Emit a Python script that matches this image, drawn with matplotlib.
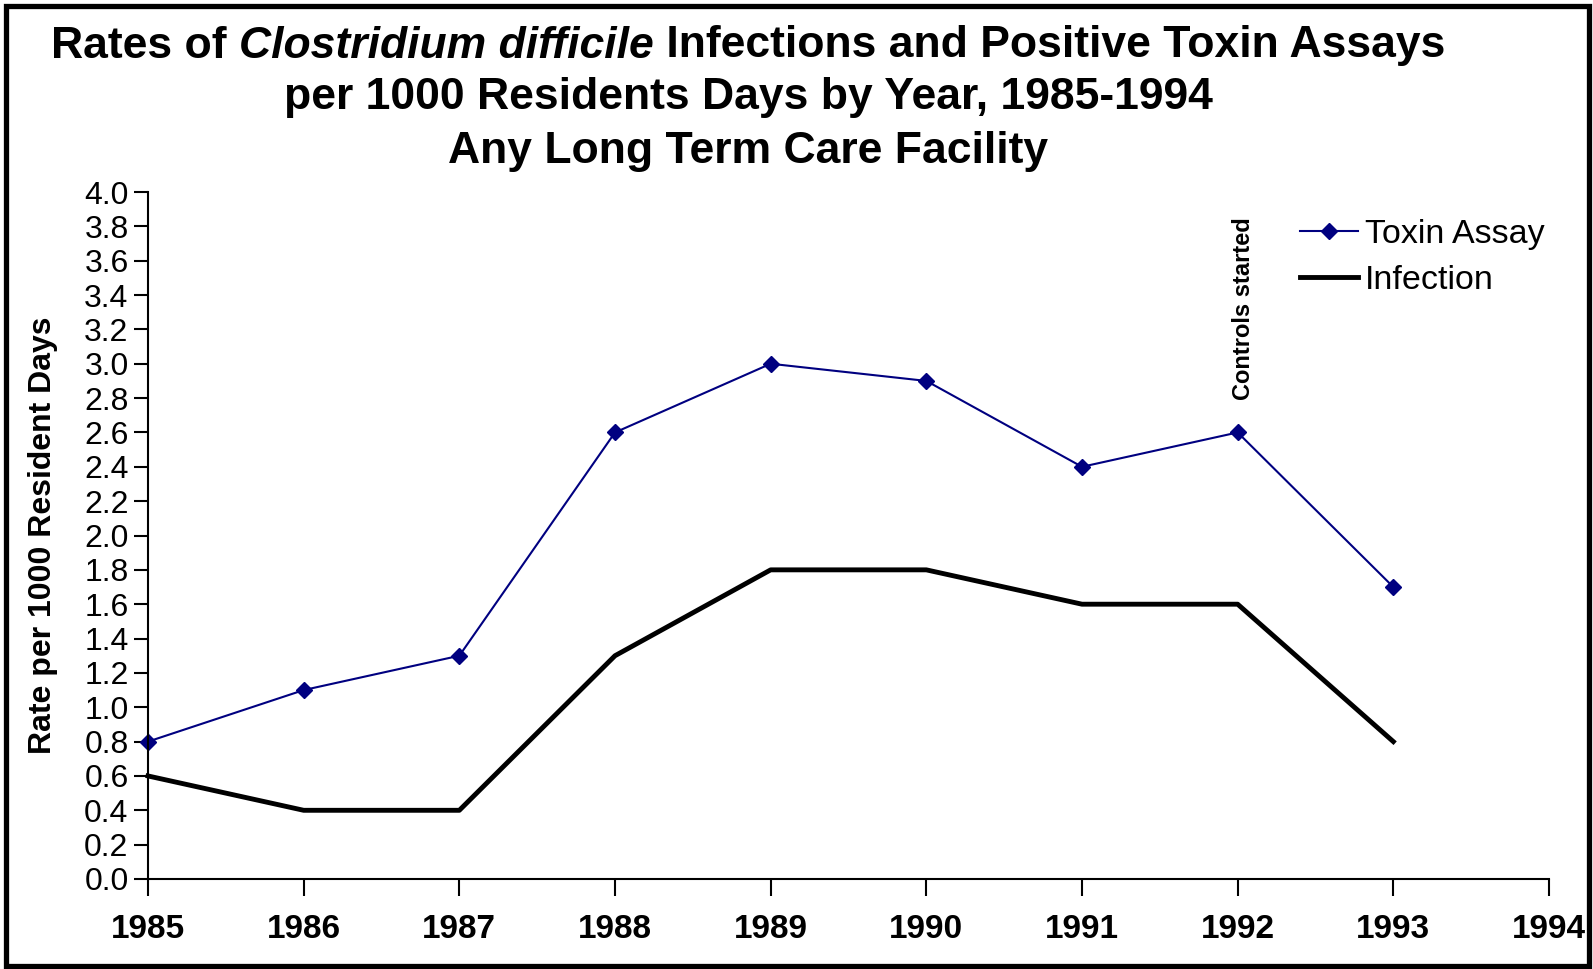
import matplotlib
matplotlib.use('Agg')
import matplotlib.pyplot as plt
from matplotlib.patches import Rectangle

plt.rcParams['font.family'] = ['Liberation Sans', 'DejaVu Sans']

years = [1985, 1986, 1987, 1988, 1989, 1990, 1991, 1992, 1993]
toxin = [0.8, 1.1, 1.3, 2.6, 3.0, 2.9, 2.4, 2.6, 1.7]
infection = [0.6, 0.4, 0.4, 1.3, 1.8, 1.8, 1.6, 1.6, 0.8]
x_ticks = list(range(1985, 1995))
y_ticks = [i / 5 for i in range(21)]

W, H = 1593, 969
fig = plt.figure(figsize=(W / 100, H / 100), dpi=100)
ax = fig.add_axes([148 / W, 1 - 879 / H, (1549 - 148) / W, (879 - 192) / H])

ax.plot(years, toxin, color='#000080', lw=1.5, marker='D', ms=8.5,
        label='Toxin Assay', clip_on=False)
ax.plot(years, infection, color='black', lw=3.5, label='Infection',
        clip_on=False)

ax.set_xlim(1985, 1994)
ax.set_ylim(0, 4.0)
ax.set_xticks(x_ticks)
ax.set_xticklabels([str(y) for y in x_ticks], fontsize=24, fontweight='bold')
ax.set_yticks(y_ticks)
ax.set_yticklabels([f'{v:.1f}' for v in y_ticks], fontsize=23)
ax.tick_params(axis='x', direction='out', length=12, width=1.5, pad=13)
ax.tick_params(axis='y', direction='out', length=10, width=1.5, pad=4)
for s in ['top', 'right']:
    ax.spines[s].set_visible(False)
for s in ['left', 'bottom']:
    ax.spines[s].set_linewidth(1.5)
ax.set_ylabel('Rate per 1000 Resident Days', fontsize=23, fontweight='bold')
ax.yaxis.set_label_coords(-(148 - 58) / (1549 - 148), 0.5)

ax.text(1992.04, 2.79, 'Controls started', rotation=90, ha='center', va='bottom',
        fontsize=17, fontweight='bold')

ax.legend(loc='upper left', bbox_to_anchor=(1300 / W, 1 - 219 / H),
          bbox_transform=fig.transFigure, frameon=False, fontsize=24.5,
          handlelength=1.7, handletextpad=0.2, labelspacing=0.45,
          borderpad=0, borderaxespad=0)

# title, first line mixes bold and bold italic
cx = 748 / W
parts = [('Rates of ', 'normal'), ('Clostridium difficile', 'italic'),
         (' Infections and Positive Toxin Assays', 'normal')]
texts = [fig.text(0, 1 - 46 / H, p, fontsize=32, fontweight='bold', style=st,
                  ha='left', va='center') for p, st in parts]
fig.canvas.draw()
r = fig.canvas.get_renderer()
widths = [t.get_window_extent(r).width / W for t in texts]
x0 = cx - sum(widths) / 2
for t, w in zip(texts, widths):
    t.set_x(x0)
    x0 += w
fig.text(cx, 1 - 98 / H, 'per 1000 Residents Days by Year, 1985-1994',
         fontsize=32, fontweight='bold', ha='center', va='center')
fig.text(cx, 1 - 151 / H, 'Any Long Term Care Facility',
         fontsize=32, fontweight='bold', ha='center', va='center')

fig.patches.append(Rectangle((5.5 / W, 3.5 / H), 1583 / W, 960 / H,
                             transform=fig.transFigure, fill=False,
                             edgecolor='black', lw=3.8))

fig.savefig('out.png', dpi=100)
